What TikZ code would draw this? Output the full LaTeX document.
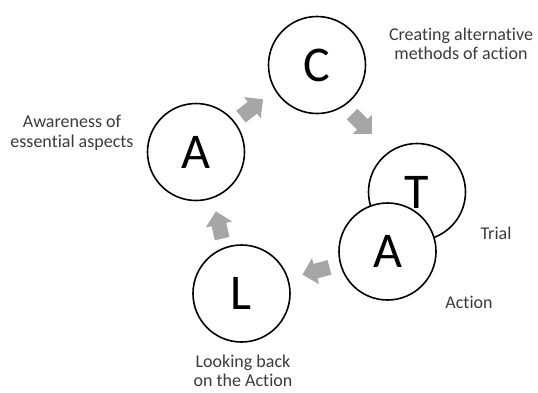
\documentclass[tikz,border=0pt]{standalone}
\usepackage{fontspec}
\setmainfont[RawFeature={-liga;-clig;-dlig}]{Carlito}
\definecolor{arrowgray}{HTML}{A6A6A6}
\definecolor{labelgray}{HTML}{3A3A3A}
\tikzset{
  stage/.style={circle, draw=black, line width=1.6pt, fill=white, minimum size=97pt, inner sep=0pt, font=\fontsize{50}{50}\selectfont},
  lbl/.style={align=center, text=labelgray, inner sep=0pt, font=\fontsize{18}{19.5}\selectfont},
  blk/.pic={\fill[arrowgray] (-14,-7.5) -- (0.5,-7.5) -- (0.5,-13.5) -- (14,0) -- (0.5,13.5) -- (0.5,7.5) -- (-14,7.5) -- cycle;}
}
\begin{document}
\begin{tikzpicture}[x=1pt, y=-1pt]
\useasboundingbox (0,0) rectangle (538,392);
\node[stage] (C) at (317,65) {C};
\node[stage] (A1) at (196,152) {A};
\node[stage] (T) at (417,192) {T};
\node[stage] (A2) at (387.5,251.5) {A};
\node[stage] (L) at (241.5,293.5) {L};
\pic[rotate=38] at (252,108) {blk};
\pic[rotate=-45] at (362,124) {blk};
\pic[rotate=195] at (316,271) {blk};
\pic[rotate=103] at (219,225) {blk};
\node[lbl] (lc) at (461,44) {Creating alternative\\methods of action};
\node[lbl] (la1) at (72,133) {Awareness of\\essential aspects};
\node[lbl] (lt) at (496,233) {Trial};
\node[lbl] (la2) at (469,302) {Action};
\node[lbl] (ll) at (243,371) {Looking back\\on the Action};
\end{tikzpicture}
\end{document}
